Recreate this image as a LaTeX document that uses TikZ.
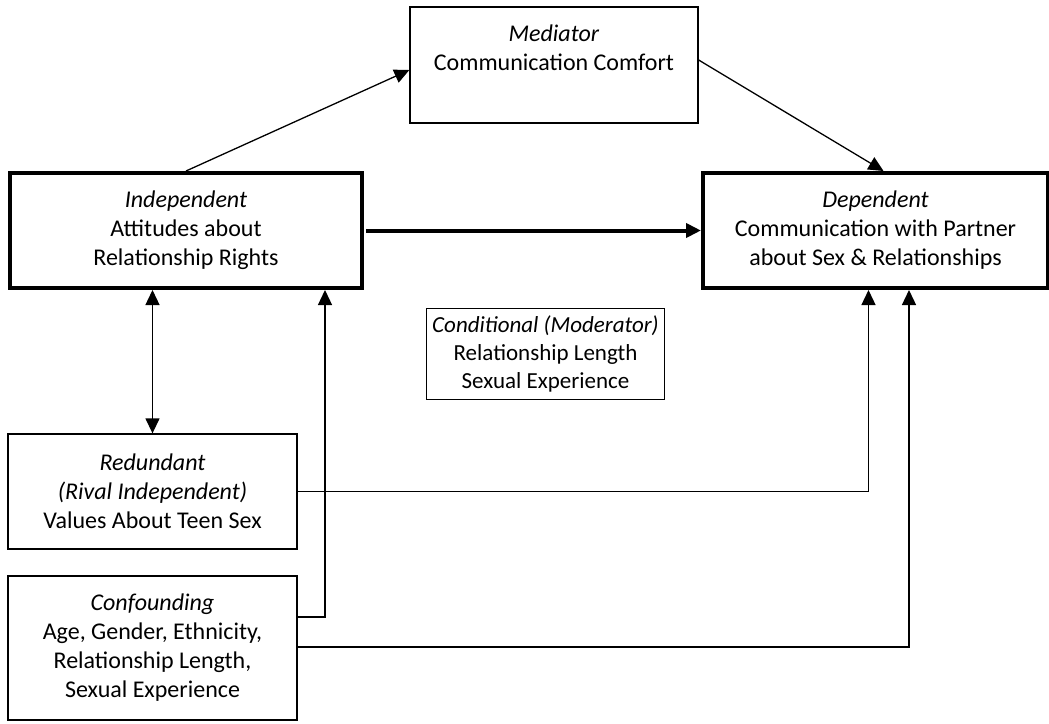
\documentclass[tikz,border=0pt]{standalone}
\usepackage{fontspec}
\setmainfont{Carlito}
\usetikzlibrary{arrows.meta,calc}

\begin{document}
\begin{tikzpicture}[x=1pt,y=-1pt,
  box/.style={draw=black, line width=1.3pt, align=center, inner sep=0pt,
    font=\fontsize{24}{29}\selectfont},
  thickbox/.style={box, line width=4pt},
  arr/.style={line width=1.3pt, -{Triangle[length=15pt,width=14pt]}}]
\useasboundingbox (0,0) rectangle (1049,723);
% boxes
\node[box, minimum width=288pt, minimum height=116pt] (med) at (554,65)
  {\parbox[c][116pt][t]{288pt}{\centering\vspace*{18pt}\textit{Mediator}\\Communication Comfort}};
\node[thickbox, minimum width=352pt, minimum height=115pt] (ind) at (186,230.5)
  {\textit{Independent}\\Attitudes about\\Relationship Rights};
\node[thickbox, minimum width=345pt, minimum height=115pt] (dep) at (875.5,230.5)
  {\textit{Dependent}\\Communication with Partner\\about Sex \& Relationships};
\node[box, minimum width=238pt, minimum height=91pt,
  font=\fontsize{23}{28}\selectfont] (cond) at (545.5,354)
  {\textit{Conditional (Moderator)}\\Relationship Length\\Sexual Experience};
\node[box, minimum width=289pt, minimum height=115pt] (red) at (152.5,491.5)
  {\textit{Redundant}\\\textit{(Rival Independent)}\\Values About Teen Sex};
\node[box, minimum width=289pt, minimum height=144pt] (conf) at (152.5,648)
  {\textit{Confounding}\\Age, Gender, Ethnicity,\\Relationship Length,\\Sexual Experience};
% arrows
\draw[arr] (ind.north) -- ([yshift=-5pt]med.west);
\draw[arr] ([yshift=5pt]med.east) -- ([xshift=8pt]dep.north);
\draw[arr, line width=4pt] ([xshift=2pt]ind.east) -- (dep.west);
\draw[arr, {Triangle[length=15pt,width=14pt]}-{Triangle[length=15pt,width=14pt]}]
  (red.north |- ind.south) -- (red.north);
\draw[arr] ([yshift=31pt]conf.east) -| ([xshift=139pt]ind.south);
\draw[arr] (red.east) -| ([xshift=-7pt]dep.south);
\draw[arr] ([yshift=1pt]conf.east) -| ([xshift=33.5pt]dep.south);
\end{tikzpicture}
\end{document}
